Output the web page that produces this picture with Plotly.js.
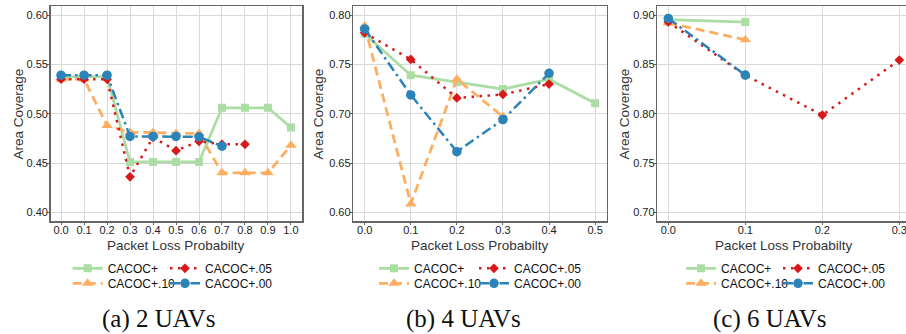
<!DOCTYPE html>
<html>
<head>
<meta charset="utf-8">
<script src="https://cdn.plot.ly/plotly-3.0.1.min.js"></script>
<style>
html,body{margin:0;padding:0;overflow:hidden;background:#fff;}
#chart{width:912px;height:334px;}
</style>
</head>
<body>
<div id="chart"></div>
<script>
// ---- data ----
const seriesNames = ["CACOC+", "CACOC+.10", "CACOC+.05", "CACOC+.00"];

// (a) 2 UAVs
const xA = [0.0, 0.1, 0.2, 0.3, 0.4, 0.5, 0.6, 0.7, 0.8, 0.9, 1.0];
const aCacoc = [0.5375, 0.5375, 0.5375, 0.451, 0.451, 0.451, 0.451, 0.506, 0.506, 0.506, 0.486];
const aC10 = [0.535, 0.535, 0.488, 0.481, 0.481, 0.480, 0.480, 0.440, 0.440, 0.440, 0.468];
const aC05 = [0.535, 0.535, 0.535, 0.436, 0.476, 0.4625, 0.472, 0.469, 0.469];
const aC00 = [0.539, 0.539, 0.539, 0.477, 0.477, 0.477, 0.4765, 0.467];

// (b) 4 UAVs
const xB = [0.0, 0.1, 0.2, 0.3, 0.4, 0.5];
const bCacoc = [0.781, 0.739, 0.732, 0.725, 0.735, 0.7105];
const bC10 = [0.789, 0.6085, 0.735, 0.697];
const bC05 = [0.782, 0.755, 0.716, 0.7195, 0.730];
const bC00 = [0.786, 0.719, 0.6615, 0.694, 0.741];

// (c) 6 UAVs
const xC = [0.0, 0.1, 0.2, 0.3];
const cCacoc = [0.8953, 0.8929];
const cC10 = [0.892, 0.875];
const cC05 = [0.893, 0.839, 0.7986, 0.8544];
const cC00 = [0.8966, 0.8392];

const xTicksA = [0.0, 0.1, 0.2, 0.3, 0.4, 0.5, 0.6, 0.7, 0.8, 0.9, 1.0];
const xTicksB = [0.0, 0.1, 0.2, 0.3, 0.4, 0.5];
const xTicksC = [0.0, 0.1, 0.2, 0.3];
const yTicksA = [0.40, 0.45, 0.50, 0.55, 0.60];
const yTicksB = [0.60, 0.65, 0.70, 0.75, 0.80];
const yTicksC = [0.70, 0.75, 0.80, 0.85, 0.90];
const captions = ["(a) 2 UAVs", "(b) 4 UAVs", "(c) 6 UAVs"];
const xTitle = "Packet Loss Probabilty";
const yTitle = "Area Coverage";

// ---- styles ----
const styles = [
  {color: "#abdda4", dash: "solid", symbol: "square", size: 8, width: 2.8},
  {color: "#fdae61", dash: "9px,5px", symbol: "triangle-up", size: 10, width: 2.8},
  {color: "#d7191c", dash: "2.5px,5.5px", symbol: "diamond", size: 7.5, width: 2.5},
  {color: "#2b83ba", dash: "10px,4px,2.5px,4px", symbol: "circle", size: 9.5, width: 2.5}
];
// legend grid position for each series: [row, col]
const legPos = [[0, 0], [1, 0], [0, 1], [1, 1]];

function legKey(panel, si) {
  const idx = panel * 4 + si + 1;
  return idx === 1 ? "legend" : "legend" + idx;
}

function mk(xs, ys, si, panel) {
  const s = styles[si];
  const ax = panel === 0 ? "" : String(panel + 1);
  return {
    x: xs.slice(0, ys.length), y: ys, type: "scatter", mode: "lines+markers",
    name: seriesNames[si], showlegend: true,
    xaxis: "x" + ax, yaxis: "y" + ax,
    legend: legKey(panel, si),
    line: {color: s.color, dash: s.dash, width: s.width},
    marker: {color: s.color, symbol: s.symbol, size: s.size},
    cliponaxis: true
  };
}

const panels = [
  [xA, [aCacoc, aC10, aC05, aC00]],
  [xB, [bCacoc, bC10, bC05, bC00]],
  [xC, [cCacoc, cC10, cC05, cC00]]
];
const data = [];
panels.forEach((p, pi) => {
  p[1].forEach((ys, si) => data.push(mk(p[0], ys, si, pi)));
});

const W = 912, H = 334;
const font = "Liberation Sans, Arial, Helvetica, sans-serif";

function xaxis(domain, range, ticks) {
  return {
    domain: domain, range: range, tickvals: ticks, tickformat: ".1f",
    showgrid: true, gridcolor: "#d9d9d9", gridwidth: 1, zeroline: false,
    showline: true, linecolor: "#666", linewidth: 1.5, mirror: true,
    ticks: "outside", ticklen: 2, tickcolor: "#666", tickwidth: 1,
    ticklabelstandoff: -4,
    tickfont: {family: font, size: 11, color: "#222"},
    automargin: false, fixedrange: true
  };
}
function yaxis(domain, range, ticks, anchor) {
  return {
    domain: domain, range: range, tickvals: ticks, tickformat: ".2f",
    showgrid: true, gridcolor: "#d9d9d9", gridwidth: 1, zeroline: false,
    showline: true, linecolor: "#666", linewidth: 1.5, mirror: true,
    ticks: "outside", ticklen: 2, tickcolor: "#666", tickwidth: 1,
    ticklabelstandoff: -3,
    tickfont: {family: font, size: 11, color: "#222"},
    automargin: false, fixedrange: true, anchor: anchor
  };
}

const yDom = [1 - 221 / H, 1 - 6 / H];
const titleFont = {family: font, size: 13.5, color: "#333"};
const annotations = [];
captions.forEach((t, i) => annotations.push({
  text: t, xref: "paper", yref: "paper",
  x: [158, 463, 769][i] / W, y: 1 - 319 / H,
  xanchor: "center", yanchor: "middle", showarrow: false,
  font: {family: "Liberation Serif, Times New Roman, serif", size: 25, color: "#111"}
}));
[176.3, 480, 783.6].forEach(cx => annotations.push({
  text: xTitle, xref: "paper", yref: "paper", x: cx / W, y: 1 - 245.5 / H,
  xanchor: "center", yanchor: "middle", showarrow: false, font: titleFont
}));
[17.5, 317.5, 623.5].forEach(cx => annotations.push({
  text: yTitle, xref: "paper", yref: "paper", x: cx / W, y: 1 - 114 / H,
  xanchor: "center", yanchor: "middle", showarrow: false, textangle: -90, font: titleFont
}));

const layout = {
  width: W, height: H,
  margin: {l: 0, r: 0, t: 0, b: 0},
  paper_bgcolor: "#fff", plot_bgcolor: "#fff",
  showlegend: true,
  font: {family: font, size: 12, color: "#222"},
  xaxis: Object.assign(xaxis([50.7 / W, 302 / W], [-0.045, 1.048], xTicksA), {anchor: "y"}),
  yaxis: yaxis(yDom, [0.3912, 0.6092], yTicksA, "x"),
  xaxis2: Object.assign(xaxis([353.3 / W, 606.5 / W], [-0.0247, 0.5247], xTicksB), {anchor: "y2"}),
  yaxis2: yaxis(yDom, [0.5912, 0.8092], yTicksB, "x2"),
  xaxis3: Object.assign(xaxis([657.3 / W, 910 / W], [-0.0143, 0.3139], xTicksC), {anchor: "y3"}),
  yaxis3: yaxis(yDom, [0.6912, 0.9092], yTicksC, "x3"),
  annotations: annotations
};
// text start positions (px) of legend columns per panel
const legTextX = [[107.7, 205], [414, 514], [721, 818]];
const legRowY = [268.3, 283.3];
for (let p = 0; p < 3; p++) {
  for (let si = 0; si < 4; si++) {
    const [r, c] = legPos[si];
    layout[legKey(p, si)] = {
      visible: true,
      orientation: "h", x: (legTextX[p][c] - 40) / W, xanchor: "left",
      y: 1 - legRowY[r] / H, yanchor: "middle",
      font: {family: font, size: 12, color: "#111"},
      bgcolor: "rgba(0,0,0,0)", borderwidth: 0,
      itemclick: false, itemdoubleclick: false
    };
  }
}

Plotly.newPlot("chart", data, layout, {displayModeBar: false, staticPlot: true});
</script>
</body>
</html>
